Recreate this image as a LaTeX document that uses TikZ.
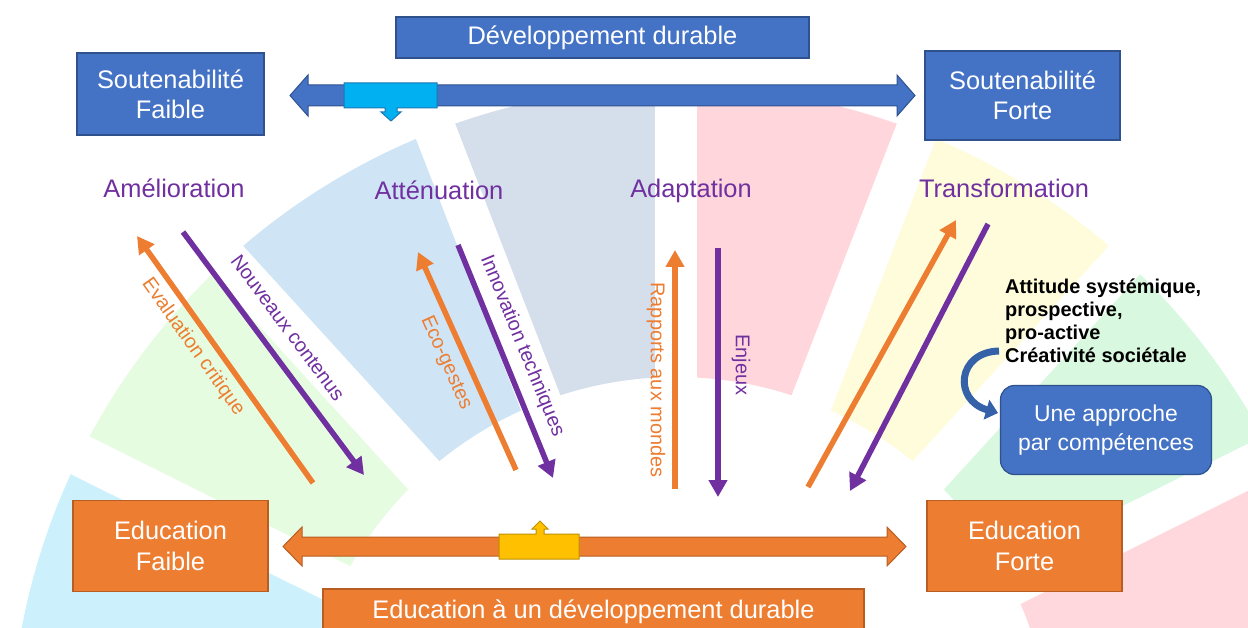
\documentclass[tikz,border=0pt]{standalone}
\usepackage{fontspec}
\setmainfont{Liberation Sans}
\usetikzlibrary{arrows.meta}
\definecolor{boxblue}{HTML}{4472C4}
\definecolor{boxblueline}{HTML}{2F528F}
\definecolor{boxorange}{HTML}{ED7D31}
\definecolor{boxorangeline}{HTML}{B85E22}
\definecolor{lblpurple}{HTML}{7030A0}
\definecolor{callcyan}{HTML}{00B0F0}
\definecolor{callcyanline}{HTML}{1F77B4}
\definecolor{callyellow}{HTML}{FFC000}
\definecolor{callyellowline}{HTML}{BF9000}
\definecolor{curveblue}{HTML}{3461A8}
\definecolor{seggray}{HTML}{D5DEEB}
\definecolor{segpink}{HTML}{FFD6DC}
\definecolor{segpinkb}{HTML}{FFD8DE}
\definecolor{seglblue}{HTML}{CFE5F5}
\definecolor{seggreenl}{HTML}{E6FCE1}
\definecolor{segcyan}{HTML}{CCF1FC}
\definecolor{segyellow}{HTML}{FEFCDA}
\definecolor{seggreenr}{HTML}{D8F8DF}
\tikzset{
  bluebox/.style={fill=boxblue, draw=boxblueline, line width=1.2bp, text=white,
    font=\fontsize{25.5}{30.5}\selectfont, align=center, inner sep=0pt},
  orangebox/.style={fill=boxorange, draw=boxorangeline, line width=1.2bp, text=white,
    font=\fontsize{25.5}{30.5}\selectfont, align=center, inner sep=0pt},
  roundbox/.style={fill=boxblue, draw=boxblueline, line width=1.2bp, text=white, rounded corners=14bp,
    font=\fontsize{23}{29}\selectfont, align=center, inner sep=0pt},
  phaselabel/.style={text=lblpurple, font=\fontsize{25.5}{30}\selectfont, inner sep=0pt, anchor=base},
  orlabel/.style={text=boxorange, font=\fontsize{20}{24}\selectfont, inner sep=0pt},
  purlabel/.style={text=lblpurple, font=\fontsize{20}{24}\selectfont, inner sep=0pt},
  orarrow/.style={draw=boxorange, line width=5.5bp, -{Triangle[length=17bp,width=18bp]}},
  purarrow/.style={draw=lblpurple, line width=5.5bp, -{Triangle[length=17bp,width=18bp]}},
  curvearrow/.style={draw=curveblue, line width=7bp, -{Triangle[length=12bp,width=20bp]}},
}
\begin{document}
\begin{tikzpicture}[x=1bp,y=-1bp]
\useasboundingbox (0,0) rectangle (1248,628);
% background wheel
\begin{scope}
\clip (0,0) rectangle (1248,628);
\begin{scope}[shift={(676,752)}, yscale=-1]
\foreach \a/\b/\c in {5.294/26.471/segpinkb, 26.471/47.647/seggreenr, 47.647/68.824/segyellow,
  68.824/90/segpink, 90/111.176/seggray, 111.176/132.353/seglblue, 132.353/153.529/seggreenl,
  153.529/174.706/segcyan}
  {\fill[\c] (\a:375) -- (\a:666) arc[start angle=\a, end angle=\b, radius=666] -- (\b:375)
     arc[start angle=\b, end angle=\a, radius=375] -- cycle;}
\foreach \g in {5.294, 26.471, 47.647, 68.824, 90, 111.176, 132.353, 153.529, 174.706}
  {\draw[white, line width=42bp] (0,0) -- (\g:720);}
\end{scope}
\end{scope}
% boxes
\node[bluebox, minimum width=413bp, minimum height=41bp] (dd) at (602.5,37.5) {Développement durable};
\node[bluebox, minimum width=187bp, minimum height=82bp] (sfaible) at (170.5,94) {Soutenabilité\\Faible};
\node[bluebox, minimum width=195bp, minimum height=89bp] (sforte) at (1022.5,95.5) {Soutenabilité\\Forte};
\node[orangebox, minimum width=195bp, minimum height=91bp] (efaible) at (170.5,546) {Education\\Faible};
\node[orangebox, minimum width=195bp, minimum height=91bp] (eforte) at (1024.5,546) {Education\\Forte};
\node[orangebox, minimum width=541bp, minimum height=46bp] (edd) at (593.5,612) {Education à un développement durable};
\node[roundbox, minimum width=211bp, minimum height=89bp] (appr) at (1106,430) {Une approche\\par compétences};
% top double block arrow with cyan callout
\filldraw[fill=boxblue, draw=boxblueline, line width=1bp]
  (290,95.5) -- (308,75) -- (308,85) -- (897,85) -- (897,75) -- (915,95.5)
  -- (897,116) -- (897,106) -- (308,106) -- (308,116) -- cycle;
\filldraw[fill=callcyan, draw=callcyanline, line width=1bp]
  (344,83) -- (437,83) -- (437,108) -- (397,108) -- (397,112) -- (401,112) -- (391,121)
  -- (381,112) -- (385,112) -- (385,108) -- (344,108) -- cycle;
% bottom double block arrow with yellow callout
\filldraw[fill=boxorange, draw=boxorangeline, line width=1bp]
  (283,546.5) -- (302,527) -- (302,537) -- (887,537) -- (887,527) -- (906,546.5)
  -- (887,566) -- (887,556) -- (302,556) -- (302,566) -- cycle;
\filldraw[fill=callyellow, draw=callyellowline, line width=1bp]
  (499,559) -- (579,559) -- (579,534) -- (544,534) -- (544,529) -- (548,529) -- (540,521)
  -- (532,529) -- (536,529) -- (536,534) -- (499,534) -- cycle;
% phase labels
\node[phaselabel] (amel) at (174,198) {Amélioration};
\node[phaselabel] (atten) at (439,200) {Atténuation};
\node[phaselabel] (adapt) at (691,198) {Adaptation};
\node[phaselabel] (transf) at (1004,198) {Transformation};
% arrow end points
\coordinate (ecA) at (313,483); \coordinate (ecB) at (137,236);
\coordinate (ncA) at (183,232); \coordinate (ncB) at (364,475);
\coordinate (egA) at (516,470); \coordinate (egB) at (418,252);
\coordinate (itA) at (458,245); \coordinate (itB) at (553,478);
\coordinate (raA) at (675,489); \coordinate (raB) at (675,250);
\coordinate (enA) at (718,248); \coordinate (enB) at (718,497);
\coordinate (trA) at (808,487); \coordinate (trB) at (956,220);
\coordinate (tpA) at (988,224); \coordinate (tpB) at (850,491);
\draw[orarrow] (ecA) -- (ecB);
\draw[purarrow] (ncA) -- (ncB);
\draw[orarrow] (egA) -- (egB);
\draw[purarrow] (itA) -- (itB);
\draw[orarrow] (raA) -- (raB);
\draw[purarrow] (enA) -- (enB);
\draw[orarrow] (trA) -- (trB);
\draw[purarrow] (tpA) -- (tpB);
% arrow labels
\node[orlabel, rotate=-54.5] (evallbl) at (193,347) {Evaluation critique};
\node[purlabel, rotate=-53.3] (nouvlbl) at (288,328) {Nouveaux contenus};
\node[orlabel, rotate=-65.8] (ecolbl) at (446,363) {Eco-gestes};
\node[purlabel, rotate=-67.8] (innovlbl) at (522,346) {Innovation techniques};
\node[orlabel, rotate=-90] (rapplbl) at (656,380) {Rapports aux mondes};
\node[purlabel, rotate=-90] (enjlbl) at (741,365) {Enjeux};
% competences text and curved arrow
\node[font=\bfseries\fontsize{20}{23}\selectfont, align=left, anchor=north west, inner sep=0pt]
  (attitude) at (1005,279) {Attitude systémique,\\prospective,\\pro-active\\Créativité sociétale};
\coordinate (cstart) at (999,351);
\coordinate (cend) at (998,413);
\draw[curvearrow] (cstart) .. controls (957,352) and (953,400) .. (cend);
\end{tikzpicture}
\end{document}
